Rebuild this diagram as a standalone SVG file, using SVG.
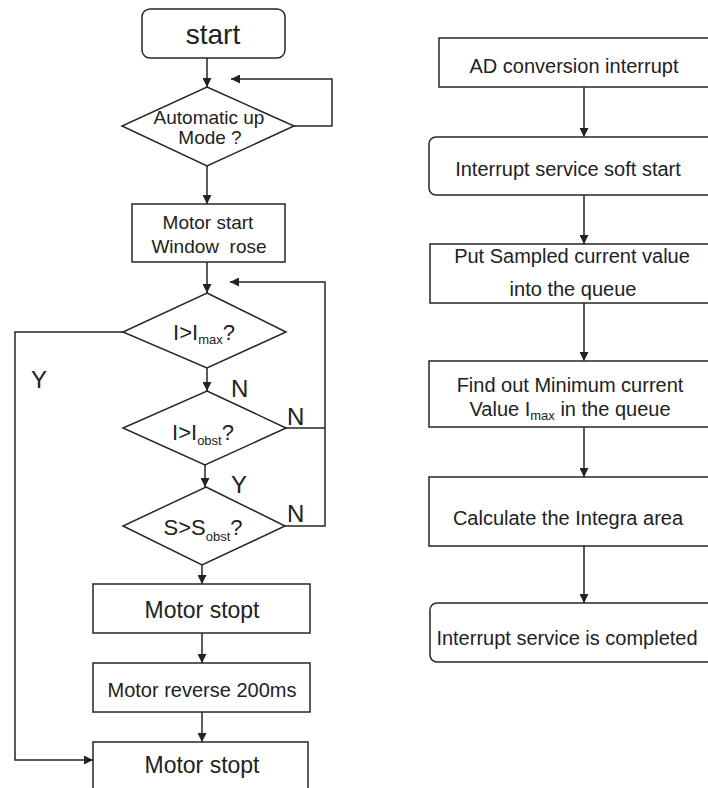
<svg xmlns="http://www.w3.org/2000/svg" width="708" height="788" viewBox="0 0 708 788">
  <style>
    .box { fill: #fff; stroke: #262626; stroke-width: 1.5; }
    .wire { fill: none; stroke: #262626; stroke-width: 1.5; }
    .t { font-family: "Liberation Sans", Arial, sans-serif; fill: #222; text-anchor: middle; }
    .lbl { font-family: "Liberation Sans", Arial, sans-serif; fill: #222; font-size: 24px; }
    .sub { font-size: 13px; }
  </style>
  <defs>
    <marker id="arrow" viewBox="0 0 10 10" refX="10" refY="5" markerWidth="9" markerHeight="9" markerUnits="userSpaceOnUse" orient="auto">
      <path d="M0,0 L10,5 L0,10 z" fill="#222"/>
    </marker>
  </defs>
  <rect width="708" height="788" fill="#fff"/>

  <!-- connectors -->
  <g id="connectors" class="wire" marker-end="url(#arrow)">
    <!-- left flow -->
    <path d="M207,58 V87"/>
    <path d="M294,126 H332 V79 H231"/>
    <path d="M207,166 V204"/>
    <path d="M207,262 V293"/>
    <path d="M207,368 V391"/>
    <path d="M205,465 V487"/>
    <path d="M202,565 V584"/>
    <path d="M202,633 V663"/>
    <path d="M202,712 V742"/>
    <path d="M123,332 H15 V760 H93"/>
    <path d="M285,526 H325 V282 H230"/>
    <path d="M286,428 H325" marker-end="none"/>
    <!-- right flow -->
    <path d="M584,87 V137"/>
    <path d="M584,195 V244"/>
    <path d="M584,303 V361"/>
    <path d="M584,427 V477"/>
    <path d="M584,546 V603"/>
  </g>

  <!-- branch labels -->
  <g id="labels">
    <text class="lbl" x="31" y="388">Y</text>
    <text class="lbl" x="231" y="397">N</text>
    <text class="lbl" x="287" y="425">N</text>
    <text class="lbl" x="231" y="493">Y</text>
    <text class="lbl" x="287" y="522">N</text>
  </g>

  <!-- left flowchart nodes -->
  <g id="start">
    <rect class="box" x="142" y="9" width="143" height="49" rx="8"/>
    <text class="t" x="213" y="44" font-size="28">start</text>
  </g>
  <g id="auto-mode">
    <polygon class="box" points="207,87 294,126 207,166 122,126"/>
    <text class="t" x="209" y="124" font-size="19">Automatic up</text>
    <text class="t" x="210" y="144" font-size="19">Mode ?</text>
  </g>
  <g id="motor-start">
    <rect class="box" x="132" y="204" width="153" height="58"/>
    <text class="t" x="208" y="229" font-size="19">Motor start</text>
    <text class="t" x="209" y="253" font-size="19" xml:space="preserve">Window  rose</text>
  </g>
  <g id="check-imax">
    <polygon class="box" points="207,293 286,332 207,368 123,332"/>
    <text class="t" x="204" y="340" font-size="22">I&gt;I<tspan class="sub" dy="4">max</tspan><tspan dy="-4">?</tspan></text>
  </g>
  <g id="check-iobst">
    <polygon class="box" points="207,391 286,428 205,465 123,428"/>
    <text class="t" x="203" y="440" font-size="22">I&gt;I<tspan class="sub" dy="5">obst</tspan><tspan dy="-5">?</tspan></text>
  </g>
  <g id="check-sobst">
    <polygon class="box" points="206,487 285,526 202,565 123,526"/>
    <text class="t" x="203" y="535" font-size="22">S&gt;S<tspan class="sub" dy="6">obst</tspan><tspan dy="-6">?</tspan></text>
  </g>
  <g id="motor-stop-1">
    <rect class="box" x="93" y="584" width="217" height="49"/>
    <text class="t" x="202" y="618" font-size="23">Motor stopt</text>
  </g>
  <g id="motor-reverse">
    <rect class="box" x="93" y="663" width="217" height="49"/>
    <text class="t" x="202" y="697" font-size="20">Motor reverse 200ms</text>
  </g>
  <g id="motor-stop-2">
    <rect class="box" x="93" y="742" width="215" height="60"/>
    <text class="t" x="202" y="773" font-size="23">Motor stopt</text>
  </g>

  <!-- right flowchart nodes -->
  <g id="ad-interrupt">
    <rect class="box" x="439" y="38" width="290" height="49"/>
    <text class="t" x="574" y="73" font-size="20">AD conversion interrupt</text>
  </g>
  <g id="isr-start">
    <rect class="box" x="429" y="137" width="300" height="58" rx="7"/>
    <text class="t" x="568" y="176" font-size="20">Interrupt service soft start</text>
  </g>
  <g id="enqueue">
    <rect class="box" x="430" y="244" width="300" height="59"/>
    <text class="t" x="572" y="263" font-size="20">Put Sampled current value</text>
    <text class="t" x="573" y="296" font-size="20">into the queue</text>
  </g>
  <g id="find-min">
    <rect class="box" x="429" y="361" width="300" height="66"/>
    <text class="t" x="570" y="392" font-size="20">Find out Minimum current</text>
    <text class="t" x="570" y="416" font-size="20">Value I<tspan class="sub" font-size="13" dy="4">max</tspan><tspan dy="-4"> in the queue</tspan></text>
  </g>
  <g id="integrate">
    <rect class="box" x="429" y="477" width="300" height="69"/>
    <text class="t" x="568" y="525" font-size="20">Calculate the Integra area</text>
  </g>
  <g id="isr-done">
    <rect class="box" x="430" y="603" width="300" height="59" rx="7"/>
    <text class="t" x="567" y="645" font-size="20">Interrupt service is completed</text>
  </g>
</svg>
